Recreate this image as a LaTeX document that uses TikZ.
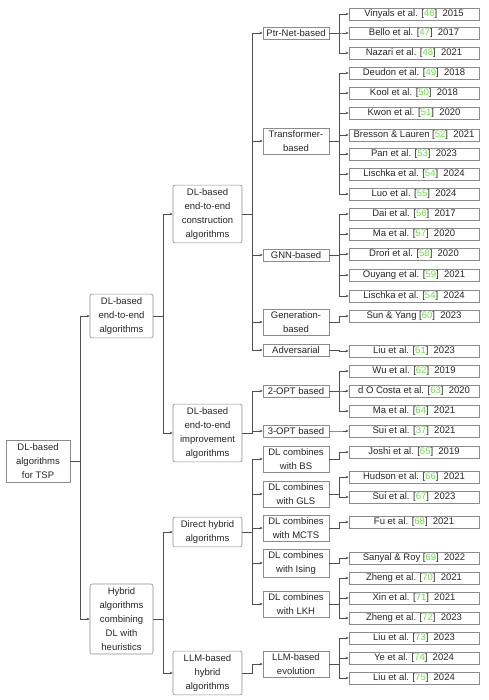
\documentclass[tikz,border=0pt]{standalone}
\usepackage{fontspec}
\setmainfont{Liberation Sans}
\usepackage{tikz}
\usetikzlibrary{arrows.meta,positioning}
\definecolor{refGreen}{RGB}{110,222,70}
\definecolor{boxGray}{RGB}{140,140,140}
\definecolor{lineGray}{RGB}{80,80,80}
\newcommand{\cit}[1]{[\textcolor{refGreen}{#1}]}

\begin{document}
\begin{tikzpicture}[
    x=1pt, y=-1pt,
    base/.style={draw=boxGray, line width=0.6pt, fill=white, align=center,
      font=\fontsize{9.5}{14}\selectfont, text=black!85, inner xsep=2pt, inner ysep=3.5pt},
    rootbox/.style={base, minimum width=64pt},
    cat/.style={base, rounded corners=2pt, minimum width=63pt},
    sub/.style={base, rounded corners=2pt, minimum width=69pt},
    kind/.style={base, minimum width=66pt, inner ysep=2.5pt},
    leaf/.style={base, minimum width=130pt, inner ysep=1.5pt},
    conn/.style={draw=lineGray, line width=0.5pt, -{Stealth[length=3pt,width=2.6pt]}}
  ]
  \useasboundingbox (0,0) rectangle (488,700);

  % root and main branches
  \node[rootbox] (tsp) at (38,461) {DL-based\\algorithms\\for TSP};
  \node[cat] (e2e) at (121.5,316) {DL-based\\end-to-end\\algorithms};
  \node[cat] (hyb) at (121.5,619) {Hybrid\\algorithms\\combining\\DL with\\heuristics};

  \node[sub] (cons) at (207.5,214) {DL-based\\end-to-end\\construction\\algorithms};
  \node[sub] (impr) at (207.5,433) {DL-based\\end-to-end\\improvement\\algorithms};
  \node[sub] (dir) at (207.5,532) {Direct hybrid\\algorithms};
  \node[sub] (llmh) at (207.5,673) {LLM-based\\hybrid\\algorithms};

  \foreach \a/\b in {tsp/e2e, tsp/hyb, e2e/cons, e2e/impr, hyb/dir, hyb/llmh}
    \draw[conn] (\a.east) -- ++(10,0) |- (\b.west);

  % method families
  \foreach \n/\y/\src/\txt in {
      ptr/33/cons/Ptr-Net-based,
      trans/141/cons/Transformer-\\based,
      gnn/255/cons/GNN-based,
      gen/322/cons/Generation-\\based,
      adv/350/cons/Adversarial,
      opttwo/391/impr/2-OPT based,
      optthree/431/impr/3-OPT based,
      bs/459/dir/DL combines\\with BS,
      gls/494/dir/DL combines\\with GLS,
      mcts/528/dir/DL combines\\with MCTS,
      ising/563/dir/DL combines\\with Ising,
      lkh/604/dir/DL combines\\with LKH,
      evo/664/llmh/LLM-based\\evolution}
  {
    \node[kind] (\n) at (296,\y) {\txt};
    \draw[conn] (\src.east) -- ++(10,0) |- (\n.west);
  }

  % papers
  \foreach \n/\y/\src/\txt in {
      vin/14/ptr/Vinyals et al. \cit{46}~~2015,
      bel/33/ptr/Bello et al. \cit{47}~~2017,
      naz/53/ptr/Nazari et al. \cit{48}~~2021,
      deu/73/trans/Deudon et al. \cit{49}~~2018,
      kool/93/trans/Kool et al. \cit{50}~~2018,
      kwon/113/trans/Kwon et al. \cit{51}~~2020,
      bre/135/trans/Bresson \& Lauren \cit{52}~~2021,
      pan/154/trans/Pan et al. \cit{53}~~2023,
      lisa/174/trans/Lischka et al. \cit{54}~~2024,
      luo/194/trans/Luo et al. \cit{55}~~2024,
      dai/214/gnn/Dai et al. \cit{56}~~2017,
      maa/234/gnn/Ma et al. \cit{57}~~2020,
      dro/254/gnn/Drori et al. \cit{58}~~2020,
      ouy/275/gnn/Ouyang et al. \cit{59}~~2021,
      lisb/296/gnn/Lischka et al. \cit{54}~~2024,
      sun/316/gen/Sun \& Yang \cit{60}~~2023,
      liua/351/adv/Liu et al. \cit{61}~~2023,
      wu/371/opttwo/Wu et al. \cit{62}~~2019,
      cos/391/opttwo/d O Costa et al. \cit{63}~~2020,
      mab/411/opttwo/Ma et al. \cit{64}~~2021,
      suia/431/optthree/Sui et al. \cit{37}~~2021,
      jos/452/bs/Joshi et al. \cit{65}~~2019,
      hud/477/gls/Hudson et al. \cit{66}~~2021,
      suib/497/gls/Sui et al. \cit{67}~~2023,
      fu/522/mcts/Fu et al. \cit{68}~~2021,
      san/558/ising/Sanyal \& Roy \cit{69}~~2022,
      zha/578/lkh/Zheng et al. \cit{70}~~2021,
      xin/598/lkh/Xin et al. \cit{71}~~2021,
      zhb/618/lkh/Zheng et al. \cit{72}~~2023,
      liub/638/evo/Liu et al. \cit{73}~~2023,
      ye/658/evo/Ye et al. \cit{74}~~2024,
      liuc/678/evo/Liu et al. \cit{75}~~2024}
  {
    \node[leaf] (\n) at (414,\y) {\txt};
    \draw[conn] (\src.east) -- ++(10,0) |- (\n.west);
  }
\end{tikzpicture}
\end{document}
